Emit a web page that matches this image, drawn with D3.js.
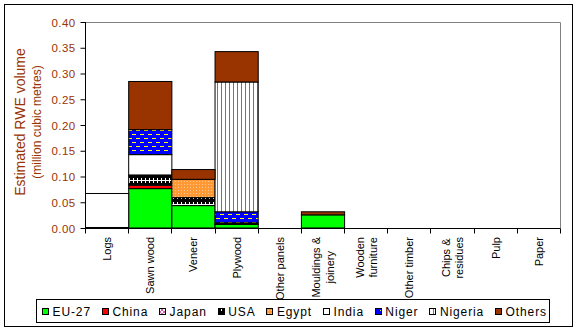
<!DOCTYPE html>
<html>
<head>
<meta charset="utf-8">
<script src="https://cdn.jsdelivr.net/npm/d3@7/dist/d3.min.js"></script>
<style>
  html, body { margin: 0; padding: 0; background: #fff; }
  svg { display: block; font-family: "Liberation Sans", Arial, sans-serif; }
</style>
</head>
<body>
<svg id="chart" width="577" height="332"></svg>
<script>
// Wood product categories (label lines as drawn under the axis)
const categories = ["Logs", "Sawn wood", "Veneer", "Plywood", "Other panels",
  "Mouldings & joinery", "Wooden furniture", "Other timber", "Chips & residues", "Pulp", "Paper"];
const categoryLines = [["Logs"], ["Sawn wood"], ["Veneer"], ["Plywood"], ["Other panels"],
  ["Mouldings &", "joinery"], ["Wooden", "furniture"], ["Other timber"], ["Chips &", "residues"], ["Pulp"], ["Paper"]];

// Source regions, stacked bottom to top
const seriesNames = ["EU-27", "China", "Japan", "USA", "Egypt", "India", "Niger", "Nigeria", "Others"];

// Estimated RWE volume (million cubic metres) per category
const eu27    = [0.001, 0.0765, 0.0435, 0.007, 0, 0.0255, 0, 0, 0, 0, 0];
const china   = [0, 0.0065, 0, 0, 0, 0, 0, 0, 0, 0, 0];
const japan   = [0, 0.001, 0, 0, 0, 0, 0, 0, 0, 0, 0];
const usa     = [0, 0.019, 0.0155, 0.003, 0, 0, 0, 0, 0, 0, 0];
const egypt   = [0, 0, 0.0355, 0, 0, 0, 0, 0, 0, 0, 0];
const india   = [0.066, 0.0395, 0, 0, 0, 0, 0, 0, 0, 0, 0];
const niger   = [0, 0.0485, 0, 0.0215, 0, 0, 0, 0, 0, 0, 0];
const nigeria = [0, 0, 0, 0.252, 0, 0, 0, 0, 0, 0, 0];
const others  = [0, 0.0935, 0.019, 0.059, 0, 0.006, 0, 0, 0, 0, 0];

const yTicks = [0, 0.05, 0.10, 0.15, 0.20, 0.25, 0.30, 0.35, 0.40];

const seriesValues = [eu27, china, japan, usa, egypt, india, niger, nigeria, others];

const svg = d3.select("#chart");
const W = 577, H = 332;
const plot = { left: 85, right: 560, top: 22, bottom: 228 };
const brown = "#993300";

svg.append("rect").attr("width", W).attr("height", H).attr("fill", "#fff");
svg.append("rect").attr("x", 4.5).attr("y", 4.5).attr("width", 568).attr("height", 322)
  .attr("fill", "none").attr("stroke", "#000");

// Fill patterns for each source
const defs = svg.append("defs");
function pattern(id, w, h, bg, draw) {
  const p = defs.append("pattern").attr("id", id).attr("patternUnits", "userSpaceOnUse")
    .attr("width", w).attr("height", h);
  p.append("rect").attr("width", w).attr("height", h).attr("fill", bg);
  draw(p);
  return `url(#${id})`;
}
const fills = {
  "EU-27": "#00ff00",
  "China": "#ff0000",
  "Japan": pattern("pJapan", 4, 4, "#ffffff", p => {
    p.append("path").attr("d", "M0,0L4,4M4,0L0,4").attr("stroke", "#cc3399").attr("stroke-width", 0.8);
  }),
  "USA": pattern("pUSA", 4, 8, "#000000", p => {
    p.append("rect").attr("x", 0).attr("y", 4).attr("width", 4).attr("height", 1).attr("fill", "#fff");
    p.append("rect").attr("x", 1).attr("y", 2).attr("width", 1).attr("height", 5).attr("fill", "#fff");
  }),
  "Egypt": pattern("pEgypt", 3, 3, "#ff9933", p => {
    p.append("rect").attr("x", 1).attr("y", 1).attr("width", 1).attr("height", 1).attr("fill", "#ffc8a0");
  }),
  "India": "#ffffff",
  "Niger": pattern("pNiger", 8, 8, "#0000ff", p => {
    p.append("rect").attr("x", 0).attr("y", 2).attr("width", 4).attr("height", 1).attr("fill", "#ffff00");
    p.append("rect").attr("x", 4).attr("y", 6).attr("width", 4).attr("height", 1).attr("fill", "#ffff00");
  }),
  "Nigeria": pattern("pNigeria", 4, 4, "#ffffff", p => {
    p.append("rect").attr("x", 1).attr("y", 0).attr("width", 1).attr("height", 4).attr("fill", "#339966");
  }),
  "Others": brown
};

const x = d3.scaleBand().domain(categories).range([plot.left, plot.right]).padding(0);
const y = d3.scaleLinear().domain([0, 0.4]).range([plot.bottom, plot.top]);

// Plot frame (grey top and right edges)
svg.append("path")
  .attr("d", `M${plot.left},${plot.top + 0.5}H${plot.right + 0.5}V${plot.bottom}`)
  .attr("fill", "none").attr("stroke", "#808080");

// Stacked bars
const table = categories.map((c, i) => {
  const row = { category: c };
  seriesNames.forEach((s, j) => row[s] = seriesValues[j][i]);
  return row;
});
const stack = d3.stack().keys(seriesNames)(table);

const layers = svg.append("g").selectAll("g").data(stack).join("g")
  .attr("fill", d => fills[d.key]);
layers.selectAll("rect")
  .data(d => d.filter(p => p[1] - p[0] > 0))
  .join("rect")
  .attr("x", d => x(d.data.category) + 0.5)
  .attr("width", x.bandwidth())
  .attr("y", d => y(d[1]))
  .attr("height", d => y(d[0]) - y(d[1]))
  .attr("stroke", "#000").attr("stroke-width", 1);

// Y axis
const yAxis = d3.axisLeft(y).tickValues(yTicks).tickFormat(d3.format(".2f")).tickSize(5).tickPadding(5);
const gy = svg.append("g").attr("transform", `translate(${plot.left + 0.5},0)`).call(yAxis);
gy.select(".domain").attr("stroke", "#000").attr("d", `M0,${plot.top}V${plot.bottom + 0.5}`);
gy.selectAll(".tick line").attr("stroke", "#000");
gy.selectAll(".tick text").attr("fill", brown).attr("font-size", 11.5)
  .attr("letter-spacing", 0.4)
  .attr("font-family", '"Liberation Sans", Arial, sans-serif').attr("dy", "0.36em");

// X axis with ticks at category boundaries
const gx = svg.append("g").attr("transform", `translate(0,${plot.bottom + 0.5})`);
gx.append("line").attr("x1", plot.left).attr("x2", plot.right + 0.5).attr("stroke", "#000");
const edges = categories.map(c => x(c)).concat([plot.right]);
gx.selectAll("line.tick").data(edges).join("line").attr("class", "tick")
  .attr("x1", d => Math.round(d) + 0.5).attr("x2", d => Math.round(d) + 0.5)
  .attr("y1", 0).attr("y2", 5).attr("stroke", "#000");

// Category labels, rotated, right-aligned to the axis with centred lines
const labelTop = plot.bottom + 9;
const lab = svg.append("g").attr("font-size", 11).attr("fill", "#000");
categoryLines.forEach((lines, i) => {
  const cx = x(categories[i]) + x.bandwidth() / 2;
  const g = lab.append("g").attr("transform", `translate(0,${labelTop})`);
  const texts = lines.map((t, k) => g.append("text").text(t)
    .attr("transform", `translate(${cx + 4.5 + (k - (lines.length - 1) / 2) * 13.3},0) rotate(-90)`)
    .attr("text-anchor", "middle"));
  const maxW = d3.max(texts, t => t.node().getComputedTextLength());
  texts.forEach(t => t.attr("x", -maxW / 2));
});

// Axis title
const titleY = 122;
svg.append("text").text("Estimated RWE volume")
  .attr("transform", `translate(25,${titleY}) rotate(-90)`).attr("text-anchor", "middle")
  .attr("font-size", 14).attr("fill", brown);
svg.append("text").text("(million cubic metres)")
  .attr("transform", `translate(40.5,${titleY}) rotate(-90)`).attr("text-anchor", "middle")
  .attr("font-size", 12).attr("fill", brown);

// Legend
const legend = { left: 36, right: 549, top: 299, bottom: 322 };
svg.append("rect").attr("x", legend.left + 0.5).attr("y", legend.top + 0.5)
  .attr("width", legend.right - legend.left).attr("height", legend.bottom - legend.top)
  .attr("fill", "#fff").attr("stroke", "#000");
const lg = svg.append("g").attr("font-size", 12).attr("letter-spacing", 0.9);
const items = seriesNames.map(name => {
  const g = lg.append("g");
  g.append("rect").attr("width", 6).attr("height", 6).attr("y", 308.5)
    .attr("fill", fills[name]).attr("stroke", "#000");
  const t = g.append("text").text(name).attr("y", 316).attr("fill", "#000");
  return { g, t, w: t.node().getComputedTextLength() };
});
const iconGap = 10.5;
const startX = 42, endX = 547;
const totalW = d3.sum(items, d => iconGap + d.w);
const gap = (endX - startX - totalW) / (items.length - 1);
let cursor = startX;
items.forEach(d => {
  d.g.select("rect").attr("x", Math.round(cursor) + 0.5);
  d.t.attr("x", cursor + iconGap);
  cursor += iconGap + d.w + gap;
});
</script>
</body>
</html>
